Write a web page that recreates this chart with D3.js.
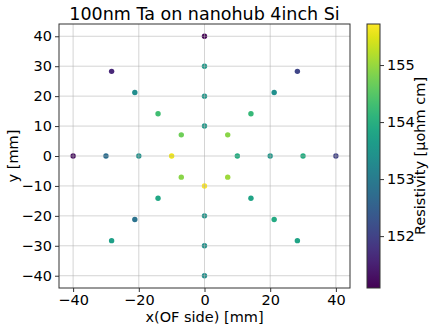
<!DOCTYPE html>
<html><head><meta charset="utf-8">
<script src="https://cdn.jsdelivr.net/npm/d3@7"></script>
<style>body{margin:0;background:#fff}svg{display:block;font-family:"DejaVu Sans",sans-serif}</style>
</head><body><svg id="c" width="438" height="331"></svg>
<script>
const pointX = [0,0,0,0, 0,0,0,0, -10,-20,-30,-40, 10,20,30,40,
  -7.07,-14.14,-21.21,-28.28, 7.07,14.14,21.21,28.28,
  -7.07,-14.14,-21.21,-28.28, 7.07,14.14,21.21,28.28];
const pointY = [10,20,30,40, -10,-20,-30,-40, 0,0,0,0, 0,0,0,0,
  7.07,14.14,21.21,28.28, 7.07,14.14,21.21,28.28,
  -7.07,-14.14,-21.21,-28.28, -7.07,-14.14,-21.21,-28.28];
const resistivity = [153.6,153.55,153.6,151.1, 155.72,153.5,153.45,153.4, 155.6,153.45,152.75,151.25, 153.95,153.55,153.95,152.0,
  154.7,154.3,153.35,151.6, 154.9,154.2,153.4,152.05,
  154.9,153.85,152.85,153.7, 155.05,153.8,153.9,153.8];
const xTicks = [-40,-20,0,20,40];
const yTicks = [-40,-30,-20,-10,0,10,20,30,40];
const cTicks = [152,153,154,155];
const cDomain = [151.09,155.72];

const FS = 14.5;
const svg = d3.select("#c");
const L=59, R=350, T=24, B=288;
const x = d3.scaleLinear().domain([-44.3,44.3]).range([L,R]);
const y = d3.scaleLinear().domain([-44.1,44.1]).range([B,T]);
const color = d3.scaleSequential(d3.interpolateViridis).domain(cDomain);
const fmt = d=>String(d).replace("-","\u2212");

const g = svg.append("g");
g.selectAll("circle").data(resistivity).join("circle")
  .attr("cx",(d,i)=>x(pointX[i])).attr("cy",(d,i)=>y(pointY[i]))
  .attr("r",2.7).attr("fill",d=>color(d));
g.selectAll(".gx").data(xTicks).join("line").attr("x1",d=>x(d)).attr("x2",d=>x(d)).attr("y1",T).attr("y2",B)
  .attr("stroke","#b0b0b0").attr("stroke-opacity",0.55).attr("stroke-width",1);
g.selectAll(".gy").data(yTicks).join("line").attr("y1",d=>y(d)).attr("y2",d=>y(d)).attr("x1",L).attr("x2",R)
  .attr("stroke","#b0b0b0").attr("stroke-opacity",0.55).attr("stroke-width",1);

const xa = svg.append("g").attr("transform",`translate(0,${B})`)
  .call(d3.axisBottom(x).tickValues(xTicks).tickSize(4).tickPadding(3).tickFormat(fmt));
const ya = svg.append("g").attr("transform",`translate(${L},0)`)
  .call(d3.axisLeft(y).tickValues(yTicks).tickSize(4).tickPadding(3).tickFormat(fmt));
[xa,ya].forEach(a=>{a.select(".domain").remove();a.selectAll("text").attr("font-size",FS).attr("font-family","DejaVu Sans").attr("fill","#000");a.selectAll("line").attr("stroke","#333");});
svg.append("rect").attr("x",L).attr("y",T).attr("width",R-L).attr("height",B-T).attr("fill","none").attr("stroke","#333").attr("stroke-width",1);

svg.append("text").attr("x",(L+R)/2).attr("y",20).attr("text-anchor","middle").attr("font-size",17.5).text("100nm Ta on nanohub 4inch Si");
svg.append("text").attr("x",(L+R)/2).attr("y",322).attr("text-anchor","middle").attr("font-size",FS).text("x(OF side) [mm]");
svg.append("text").attr("transform",`translate(18,${(T+B)/2}) rotate(-90)`).attr("text-anchor","middle").attr("font-size",FS).text("y [mm]");

const cbL=367, cbR=380;
const cy = d3.scaleLinear().domain(cDomain).range([B,T]);
const grad = svg.append("defs").append("linearGradient").attr("id","vg").attr("x1",0).attr("y1",1).attr("x2",0).attr("y2",0);
d3.range(0,1.0001,0.05).forEach(t=>grad.append("stop").attr("offset",t).attr("stop-color",d3.interpolateViridis(t)));
svg.append("rect").attr("x",cbL).attr("y",T).attr("width",cbR-cbL).attr("height",B-T).attr("fill","url(#vg)").attr("stroke","#333").attr("stroke-width",1);
const ca = svg.append("g").attr("transform",`translate(${cbR},0)`).call(d3.axisRight(cy).tickValues(cTicks).tickSize(4).tickPadding(3).tickFormat(d3.format("d")));
ca.select(".domain").remove();
ca.selectAll("text").attr("font-size",FS).attr("font-family","DejaVu Sans").attr("fill","#000");
ca.selectAll("line").attr("stroke","#333");
svg.append("text").attr("transform",`translate(425,${(T+B)/2}) rotate(-90)`).attr("text-anchor","middle").attr("font-size",FS).text("Resistivity [\u00b5ohm cm]");
</script></body></html>
